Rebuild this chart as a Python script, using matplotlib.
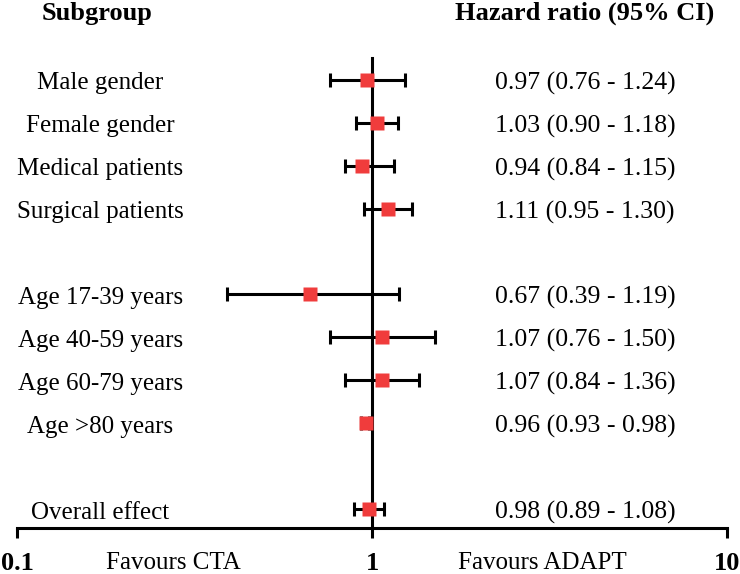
#forest plot : hazard ratio per subgroup, log scale

import numpy as np
import matplotlib
matplotlib.use('Agg')
import matplotlib.pyplot as plt

plt.rcParams['font.family'] = ['Liberation Serif', 'DejaVu Serif']

#data
subgroups = ['Male gender', 'Female gender', 'Medical patients', 'Surgical patients',
             'Age 17-39 years', 'Age 40-59 years', 'Age 60-79 years', 'Age >80 years',
             'Overall effect']
rows = [0, 1, 2, 3, 5, 6, 7, 8, 10]
hr = np.array([0.97, 1.03, 0.94, 1.11, 0.67, 1.07, 1.07, 0.96, 0.98])
ci_low = np.array([0.76, 0.90, 0.84, 0.95, 0.39, 0.76, 0.84, 0.93, 0.89])
ci_high = np.array([1.24, 1.18, 1.15, 1.30, 1.19, 1.50, 1.36, 0.98, 1.08])
ticks = [0.1, 1, 10]
tick_labels = ['0.1', '1', '10']

red = '#F03C3C'
lw = 2.2

fig = plt.figure(figsize=(7.4, 5.74), dpi=100)
ax = fig.add_axes([17/740, 46/574, 710/740, 528/574])
ax.set_xscale('log')
ax.set_xlim(0.1, 10)
ax.set_ylim(10.44, -1.856)

for s in ['top', 'left', 'right']:
    ax.spines[s].set_visible(False)
ax.spines['bottom'].set_linewidth(lw)
ax.set_yticks([])
ax.set_xticks(ticks)
ax.set_xticklabels(tick_labels, fontsize=19, fontweight='bold')
ax.minorticks_off()
ax.tick_params(axis='x', length=7, width=lw, pad=10)

#line of no effect
ax.plot([1, 1], [-0.51, 10.44], color='black', lw=lw, zorder=1, clip_on=False)

ax.errorbar(hr, rows, xerr=[hr - ci_low, ci_high - hr], fmt='none', ecolor='black',
            elinewidth=lw, capsize=4.7, capthick=lw, zorder=2)
ax.plot(hr, rows, 's', ms=10, color=red, mec='none', zorder=3)

tr = ax.get_yaxis_transform()
for name, r, h, lo, hi in zip(subgroups, rows, hr, ci_low, ci_high):
    ax.text(0.117, r + 0.08, name, transform=tr, ha='center', va='center', fontsize=18)
    ax.text(0.800, r + 0.08, '%.2f (%.2f - %.2f)' % (h, lo, hi), transform=tr,
            ha='center', va='center', fontsize=18.5)

ax.text(0.113, -1.55, 'Subgroup', transform=tr, ha='center', va='center',
        fontsize=19, fontweight='bold')
ax.text(0.799, -1.55, 'Hazard ratio (95% CI)', transform=tr, ha='center', va='center',
        fontsize=19, fontweight='bold')

fig.text(173/740, 1 - 563/574, 'Favours CTA', ha='center', va='center', fontsize=18)
fig.text(542/740, 1 - 563/574, 'Favours ADAPT', ha='center', va='center', fontsize=18)

fig.savefig('out.png', dpi=100)
